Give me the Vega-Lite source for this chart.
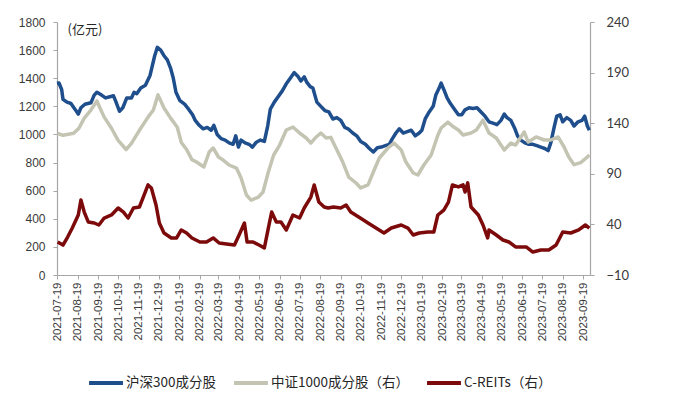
{
  "$schema": "https://vega.github.io/schema/vega-lite/v6.json",
  "width": 533,
  "height": 253,
  "autosize": {"type": "none"},
  "padding": {"left": 57, "top": 22, "right": 110, "bottom": 128},
  "background": "white",
  "config": {
    "view": {"stroke": null},
    "font": "Liberation Sans",
    "axis": {"grid": false, "domainColor": "#A6A6A6", "tickColor": "#A6A6A6", "labelColor": "#3A3A3A", "domainWidth": 1.2}
  },
  "datasets": {
    "hs": [
      {"d":"2021-07-19","v":1364},{"d":"2021-07-22","v":1366},{"d":"2021-07-26","v":1320},{"d":"2021-07-28","v":1250},{"d":"2021-08-03","v":1230},{"d":"2021-08-09","v":1220},{"d":"2021-08-15","v":1180},{"d":"2021-08-20","v":1145},{"d":"2021-08-24","v":1190},{"d":"2021-08-30","v":1215},{"d":"2021-09-08","v":1225},{"d":"2021-09-13","v":1280},{"d":"2021-09-17","v":1300},{"d":"2021-09-24","v":1280},{"d":"2021-09-30","v":1260},{"d":"2021-10-08","v":1270},{"d":"2021-10-12","v":1275},{"d":"2021-10-15","v":1240},{"d":"2021-10-21","v":1165},{"d":"2021-10-26","v":1190},{"d":"2021-11-01","v":1260},{"d":"2021-11-08","v":1260},{"d":"2021-11-12","v":1300},{"d":"2021-11-16","v":1290},{"d":"2021-11-22","v":1330},{"d":"2021-11-29","v":1350},{"d":"2021-12-06","v":1420},{"d":"2021-12-13","v":1560},{"d":"2021-12-17","v":1620},{"d":"2021-12-22","v":1600},{"d":"2021-12-27","v":1560},{"d":"2022-01-01","v":1530},{"d":"2022-01-06","v":1470},{"d":"2022-01-10","v":1400},{"d":"2022-01-14","v":1300},{"d":"2022-01-20","v":1240},{"d":"2022-01-27","v":1215},{"d":"2022-02-02","v":1180},{"d":"2022-02-08","v":1140},{"d":"2022-02-12","v":1100},{"d":"2022-02-18","v":1065},{"d":"2022-02-24","v":1040},{"d":"2022-03-02","v":1050},{"d":"2022-03-08","v":1030},{"d":"2022-03-12","v":1065},{"d":"2022-03-17","v":1000},{"d":"2022-03-23","v":970},{"d":"2022-03-29","v":960},{"d":"2022-04-04","v":940},{"d":"2022-04-10","v":930},{"d":"2022-04-14","v":990},{"d":"2022-04-18","v":910},{"d":"2022-04-22","v":960},{"d":"2022-04-28","v":940},{"d":"2022-05-04","v":930},{"d":"2022-05-09","v":910},{"d":"2022-05-15","v":945},{"d":"2022-05-21","v":960},{"d":"2022-05-27","v":950},{"d":"2022-06-01","v":1060},{"d":"2022-06-05","v":1180},{"d":"2022-06-11","v":1230},{"d":"2022-06-17","v":1270},{"d":"2022-06-23","v":1310},{"d":"2022-06-29","v":1360},{"d":"2022-07-05","v":1400},{"d":"2022-07-11","v":1440},{"d":"2022-07-17","v":1410},{"d":"2022-07-21","v":1380},{"d":"2022-07-26","v":1410},{"d":"2022-07-30","v":1370},{"d":"2022-08-04","v":1340},{"d":"2022-08-08","v":1330},{"d":"2022-08-14","v":1230},{"d":"2022-08-20","v":1200},{"d":"2022-08-26","v":1170},{"d":"2022-09-01","v":1160},{"d":"2022-09-07","v":1110},{"d":"2022-09-13","v":1120},{"d":"2022-09-19","v":1100},{"d":"2022-09-25","v":1050},{"d":"2022-09-30","v":1040},{"d":"2022-10-07","v":1010},{"d":"2022-10-13","v":990},{"d":"2022-10-19","v":950},{"d":"2022-10-26","v":930},{"d":"2022-11-01","v":900},{"d":"2022-11-07","v":875},{"d":"2022-11-13","v":905},{"d":"2022-11-19","v":910},{"d":"2022-11-25","v":920},{"d":"2022-12-01","v":930},{"d":"2022-12-05","v":965},{"d":"2022-12-11","v":1010},{"d":"2022-12-16","v":1040},{"d":"2022-12-22","v":1010},{"d":"2022-12-28","v":1020},{"d":"2023-01-03","v":1030},{"d":"2023-01-09","v":990},{"d":"2023-01-15","v":1010},{"d":"2023-01-19","v":1030},{"d":"2023-01-24","v":1110},{"d":"2023-01-30","v":1160},{"d":"2023-02-05","v":1200},{"d":"2023-02-09","v":1280},{"d":"2023-02-14","v":1330},{"d":"2023-02-17","v":1365},{"d":"2023-02-21","v":1320},{"d":"2023-02-26","v":1260},{"d":"2023-03-03","v":1220},{"d":"2023-03-09","v":1180},{"d":"2023-03-15","v":1140},{"d":"2023-03-20","v":1140},{"d":"2023-03-25","v":1175},{"d":"2023-03-31","v":1190},{"d":"2023-04-06","v":1185},{"d":"2023-04-12","v":1190},{"d":"2023-04-18","v":1160},{"d":"2023-04-24","v":1130},{"d":"2023-04-30","v":1090},{"d":"2023-05-06","v":1080},{"d":"2023-05-12","v":1070},{"d":"2023-05-18","v":1100},{"d":"2023-05-23","v":1145},{"d":"2023-05-27","v":1120},{"d":"2023-06-02","v":1100},{"d":"2023-06-08","v":1040},{"d":"2023-06-12","v":990},{"d":"2023-06-17","v":960},{"d":"2023-06-23","v":940},{"d":"2023-06-29","v":930},{"d":"2023-07-05","v":930},{"d":"2023-07-11","v":920},{"d":"2023-07-17","v":910},{"d":"2023-07-23","v":900},{"d":"2023-07-28","v":885},{"d":"2023-08-01","v":940},{"d":"2023-08-06","v":1050},{"d":"2023-08-10","v":1130},{"d":"2023-08-15","v":1140},{"d":"2023-08-19","v":1090},{"d":"2023-08-25","v":1120},{"d":"2023-08-31","v":1100},{"d":"2023-09-05","v":1060},{"d":"2023-09-11","v":1090},{"d":"2023-09-17","v":1100},{"d":"2023-09-21","v":1130},{"d":"2023-09-25","v":1060},{"d":"2023-09-28","v":1030}
    ],
    "zz": [
      {"d":"2021-07-20","v":130},{"d":"2021-07-28","v":128},{"d":"2021-08-05","v":129},{"d":"2021-08-13","v":130},{"d":"2021-08-21","v":135},{"d":"2021-08-29","v":145},{"d":"2021-09-08","v":153},{"d":"2021-09-17","v":162},{"d":"2021-09-21","v":156},{"d":"2021-09-28","v":146},{"d":"2021-10-09","v":135},{"d":"2021-10-19","v":123},{"d":"2021-10-31","v":114},{"d":"2021-11-08","v":120},{"d":"2021-11-20","v":133},{"d":"2021-12-03","v":146},{"d":"2021-12-11","v":153},{"d":"2021-12-18","v":168},{"d":"2021-12-27","v":155},{"d":"2022-01-06","v":145},{"d":"2022-01-16","v":136},{"d":"2022-01-22","v":121},{"d":"2022-01-30","v":114},{"d":"2022-02-07","v":104},{"d":"2022-02-14","v":101.6},{"d":"2022-02-25","v":96.7},{"d":"2022-03-05","v":111.5},{"d":"2022-03-11","v":115.5},{"d":"2022-03-19","v":106.6},{"d":"2022-03-26","v":103.6},{"d":"2022-04-04","v":98.7},{"d":"2022-04-15","v":95.7},{"d":"2022-04-22","v":85.8},{"d":"2022-04-30","v":69},{"d":"2022-05-07","v":64},{"d":"2022-05-18","v":67},{"d":"2022-05-25","v":72},{"d":"2022-06-02","v":91.8},{"d":"2022-06-10","v":108.6},{"d":"2022-06-19","v":118.4},{"d":"2022-06-29","v":133.3},{"d":"2022-07-09","v":136.2},{"d":"2022-07-19","v":130.3},{"d":"2022-07-29","v":125.4},{"d":"2022-08-05","v":120.4},{"d":"2022-08-13","v":126.4},{"d":"2022-08-20","v":130.3},{"d":"2022-08-28","v":125.4},{"d":"2022-09-04","v":126},{"d":"2022-09-11","v":116.5},{"d":"2022-09-22","v":101.6},{"d":"2022-10-01","v":86.8},{"d":"2022-10-12","v":80.9},{"d":"2022-10-19","v":76},{"d":"2022-10-30","v":79},{"d":"2022-11-07","v":91.8},{"d":"2022-11-16","v":105.6},{"d":"2022-11-29","v":115.5},{"d":"2022-12-08","v":120.4},{"d":"2022-12-19","v":113.5},{"d":"2022-12-26","v":101.6},{"d":"2023-01-06","v":90.8},{"d":"2023-01-13","v":88.8},{"d":"2023-01-22","v":98.7},{"d":"2023-02-02","v":108.6},{"d":"2023-02-12","v":128},{"d":"2023-02-17","v":135.2},{"d":"2023-02-27","v":141},{"d":"2023-03-08","v":136.2},{"d":"2023-03-15","v":133.3},{"d":"2023-03-22","v":128.3},{"d":"2023-04-03","v":130.3},{"d":"2023-04-11","v":133.3},{"d":"2023-04-21","v":143},{"d":"2023-04-30","v":130.3},{"d":"2023-05-11","v":125.4},{"d":"2023-05-23","v":113.5},{"d":"2023-06-02","v":120.4},{"d":"2023-06-09","v":118.4},{"d":"2023-06-22","v":131.3},{"d":"2023-06-28","v":121.4},{"d":"2023-07-10","v":126.4},{"d":"2023-07-22","v":123.4},{"d":"2023-08-01","v":123.4},{"d":"2023-08-12","v":126.4},{"d":"2023-08-21","v":116.5},{"d":"2023-08-28","v":106.6},{"d":"2023-09-05","v":99},{"d":"2023-09-15","v":101},{"d":"2023-09-25","v":106.6},{"d":"2023-09-28","v":108.6}
    ],
    "re": [
      {"d":"2021-07-20","v":22.6},{"d":"2021-07-28","v":19.6},{"d":"2021-08-04","v":27.5},{"d":"2021-08-11","v":36.4},{"d":"2021-08-20","v":49.3},{"d":"2021-08-24","v":64.1},{"d":"2021-08-29","v":52.2},{"d":"2021-09-04","v":42.4},{"d":"2021-09-13","v":41.4},{"d":"2021-09-20","v":39.4},{"d":"2021-09-28","v":46.3},{"d":"2021-10-09","v":49.3},{"d":"2021-10-19","v":56.2},{"d":"2021-10-27","v":52.2},{"d":"2021-11-03","v":46.3},{"d":"2021-11-11","v":56.2},{"d":"2021-11-20","v":57.2},{"d":"2021-11-27","v":69},{"d":"2021-12-03","v":79},{"d":"2021-12-08","v":76},{"d":"2021-12-15","v":59.2},{"d":"2021-12-20","v":41.4},{"d":"2021-12-27","v":31.5},{"d":"2022-01-07","v":26.6},{"d":"2022-01-15","v":26.6},{"d":"2022-01-22","v":34.5},{"d":"2022-01-30","v":31.5},{"d":"2022-02-07","v":26.6},{"d":"2022-02-19","v":22.6},{"d":"2022-03-01","v":22.6},{"d":"2022-03-11","v":26.6},{"d":"2022-03-20","v":21.6},{"d":"2022-03-31","v":20.6},{"d":"2022-04-12","v":19.6},{"d":"2022-04-19","v":29.5},{"d":"2022-04-27","v":41.4},{"d":"2022-05-01","v":22.6},{"d":"2022-05-10","v":22.6},{"d":"2022-05-19","v":19.6},{"d":"2022-05-27","v":16.7},{"d":"2022-06-02","v":36.4},{"d":"2022-06-07","v":52.2},{"d":"2022-06-14","v":42.4},{"d":"2022-06-21","v":42.4},{"d":"2022-06-29","v":34.5},{"d":"2022-07-09","v":49.3},{"d":"2022-07-19","v":46.3},{"d":"2022-07-26","v":56.2},{"d":"2022-08-05","v":67},{"d":"2022-08-10","v":79},{"d":"2022-08-17","v":62.1},{"d":"2022-08-25","v":57.2},{"d":"2022-08-31","v":56.2},{"d":"2022-09-08","v":57.2},{"d":"2022-09-19","v":56.2},{"d":"2022-09-27","v":59.2},{"d":"2022-10-04","v":52.2},{"d":"2022-10-16","v":47.3},{"d":"2022-10-30","v":41.4},{"d":"2022-11-11","v":36.4},{"d":"2022-11-23","v":31.5},{"d":"2022-12-04","v":36.4},{"d":"2022-12-19","v":39.4},{"d":"2022-12-29","v":36.4},{"d":"2023-01-06","v":29.5},{"d":"2023-01-15","v":31.5},{"d":"2023-01-28","v":32.5},{"d":"2023-02-06","v":32.5},{"d":"2023-02-12","v":49.3},{"d":"2023-02-21","v":54.2},{"d":"2023-02-28","v":62.1},{"d":"2023-03-06","v":79},{"d":"2023-03-15","v":77},{"d":"2023-03-22","v":79},{"d":"2023-03-25","v":72},{"d":"2023-03-29","v":81},{"d":"2023-04-03","v":57.2},{"d":"2023-04-14","v":49.3},{"d":"2023-04-21","v":39.4},{"d":"2023-04-28","v":26.6},{"d":"2023-04-30","v":34.5},{"d":"2023-05-11","v":29.5},{"d":"2023-05-21","v":24.6},{"d":"2023-05-30","v":22.6},{"d":"2023-06-09","v":17.7},{"d":"2023-06-25","v":17.7},{"d":"2023-07-05","v":12.7},{"d":"2023-07-17","v":14.7},{"d":"2023-07-29","v":14.7},{"d":"2023-08-09","v":19.6},{"d":"2023-08-19","v":32.5},{"d":"2023-08-31","v":31.5},{"d":"2023-09-12","v":34.5},{"d":"2023-09-22","v":39.4},{"d":"2023-09-28","v":36.4}
    ]
  },
  "encoding": {
    "x": {
      "field": "d", "type": "temporal",
      "scale": {"type": "utc", "domain": [{"year": 2021, "month": 7, "date": 19, "utc": true}, {"year": 2023, "month": 9, "date": 29, "utc": true}]},
      "axis": {
        "title": null, "format": "%Y-%m-%d", "labelAngle": 270, "labelFontSize": 11.5, "labelPadding": 3, "tickSize": 4,
        "values": [
          {"year": 2021, "month": 7, "date": 19, "utc": true},{"year": 2021, "month": 8, "date": 19, "utc": true},{"year": 2021, "month": 9, "date": 19, "utc": true},{"year": 2021, "month": 10, "date": 19, "utc": true},{"year": 2021, "month": 11, "date": 19, "utc": true},{"year": 2021, "month": 12, "date": 19, "utc": true},
          {"year": 2022, "month": 1, "date": 19, "utc": true},{"year": 2022, "month": 2, "date": 19, "utc": true},{"year": 2022, "month": 3, "date": 19, "utc": true},{"year": 2022, "month": 4, "date": 19, "utc": true},{"year": 2022, "month": 5, "date": 19, "utc": true},{"year": 2022, "month": 6, "date": 19, "utc": true},{"year": 2022, "month": 7, "date": 19, "utc": true},{"year": 2022, "month": 8, "date": 19, "utc": true},{"year": 2022, "month": 9, "date": 19, "utc": true},{"year": 2022, "month": 10, "date": 19, "utc": true},{"year": 2022, "month": 11, "date": 19, "utc": true},{"year": 2022, "month": 12, "date": 19, "utc": true},
          {"year": 2023, "month": 1, "date": 19, "utc": true},{"year": 2023, "month": 2, "date": 19, "utc": true},{"year": 2023, "month": 3, "date": 19, "utc": true},{"year": 2023, "month": 4, "date": 19, "utc": true},{"year": 2023, "month": 5, "date": 19, "utc": true},{"year": 2023, "month": 6, "date": 19, "utc": true},{"year": 2023, "month": 7, "date": 19, "utc": true},{"year": 2023, "month": 8, "date": 19, "utc": true},{"year": 2023, "month": 9, "date": 19, "utc": true}
        ]
      }
    }
  },
  "layer": [
    {
      "data": {"name": "hs"},
      "mark": {"type": "line", "strokeWidth": 3.5, "strokeJoin": "round"},
      "encoding": {
        "y": {
          "field": "v", "type": "quantitative", "scale": {"domain": [0, 1800]},
          "axis": {
            "values": [0, 200, 400, 600, 800, 1000, 1200, 1400, 1600, 1800], "format": "d", "labelFontSize": 12, "tickSize": 4, "labelPadding": 8,
            "title": "(亿元)", "titleAngle": 0, "titleX": 10, "titleY": 7, "titleAlign": "left", "titleBaseline": "middle",
            "titleFontSize": 13, "titleFontWeight": "normal", "titleFont": "Noto Sans CJK SC", "titleColor": "#262626"
          }
        },
        "color": {
          "datum": "沪深300成分股", "type": "nominal",
          "scale": {"domain": ["沪深300成分股", "中证1000成分股（右）", "C-REITs（右）"], "range": ["#1F4E8C", "#C4C4B3", "#7C0A0A"]},
          "legend": {
            "orient": "none", "legendX": 30, "legendY": 342, "direction": "horizontal", "title": null,
            "symbolType": "stroke", "symbolStrokeWidth": 4, "symbolSize": 1150,
            "labelFontSize": 13.5, "labelFont": "Noto Sans CJK SC", "labelColor": "#262626", "columnPadding": 10, "labelOffset": 1
          }
        }
      }
    },
    {
      "data": {"name": "zz"},
      "mark": {"type": "line", "strokeWidth": 3.5, "strokeJoin": "round"},
      "encoding": {
        "y": {
          "field": "v", "type": "quantitative", "scale": {"domain": [-10, 240]},
          "axis": {"orient": "right", "values": [-10, 40, 90, 140, 190, 240], "labelFontSize": 13, "labelFont": "Lato", "tickSize": 4, "labelPadding": 12, "title": null}
        },
        "color": {"datum": "中证1000成分股（右）", "type": "nominal"}
      }
    },
    {
      "data": {"name": "re"},
      "mark": {"type": "line", "strokeWidth": 3.5, "strokeJoin": "round"},
      "encoding": {
        "y": {"field": "v", "type": "quantitative", "scale": {"domain": [-10, 240]}, "axis": null},
        "color": {"datum": "C-REITs（右）", "type": "nominal"}
      }
    }
  ],
  "resolve": {"scale": {"y": "independent"}}
}
